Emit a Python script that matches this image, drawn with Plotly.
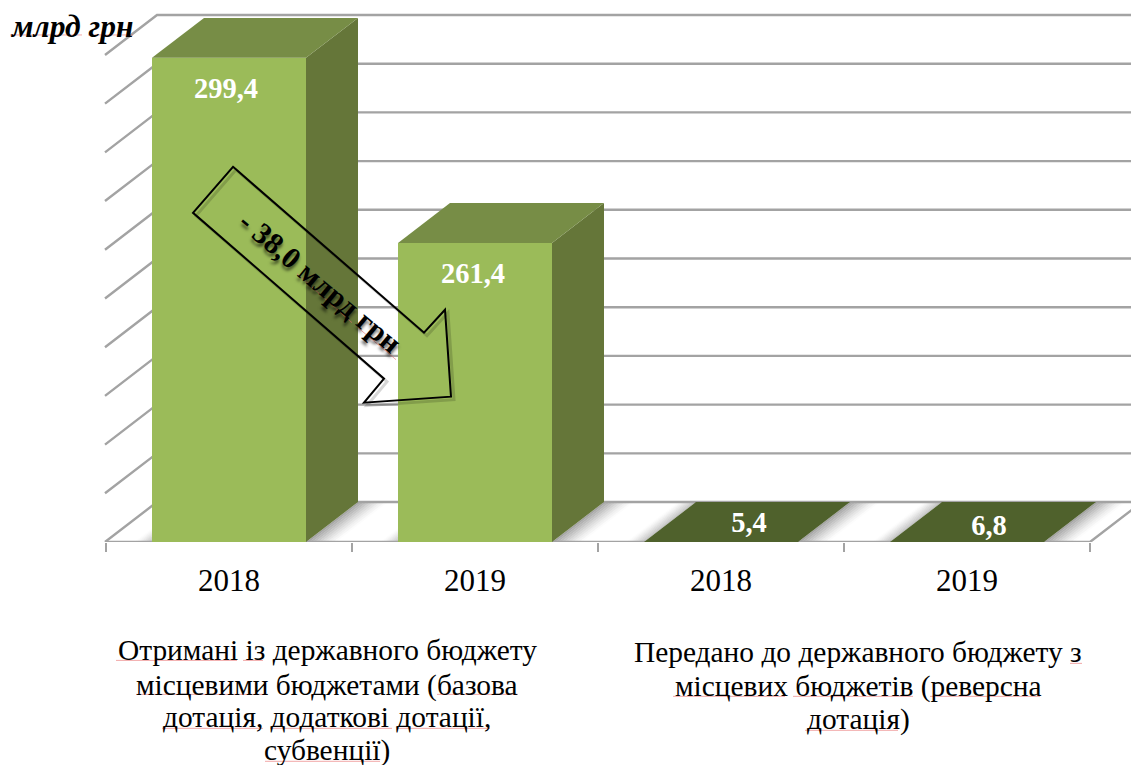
import plotly.graph_objects as go

# ---- data ----
categories = ["2018", "2019", "2018", "2019"]
values = [299.4, 261.4, 5.4, 6.8]
value_labels = ["299,4", "261,4", "5,4", "6,8"]
grid_values = [200, 210, 220, 230, 240, 250, 260, 270, 280, 290, 300]
unit_label = "млрд грн"
change_label = "- 38,0 млрд грн"
caption_received = ["Отримані із державного бюджету", "місцевими бюджетами (базова",
                    "дотація, додаткові дотації,", "субвенції)"]
caption_transferred = ["Передано до державного бюджету з", "місцевих бюджетів (реверсна", "дотація)"]

# ---- scales / geometry ----
W, H = 1131, 765
FLOOR_PX = 542.5          # pixel row of the front axis
PX_PER_X = 246.0
PX_PER_Y = 4.875
X0_PX = 229.0             # pixel column of category 0
AXIS_MIN = 200
BAR_W = 154 / PX_PER_X
DX = 52 / PX_PER_X        # depth of the 3-D box in x units
DY = 40 / PX_PER_Y        # depth of the 3-D box in y units
X_LEFT, X_RIGHT = -0.5 - 1 / PX_PER_X, 3.5
X_MAX = (W - X0_PX) / PX_PER_X
X_MIN = -X0_PX / PX_PER_X
Y_MAX = AXIS_MIN + FLOOR_PX / PX_PER_Y

GREY = "#a3a3a3"
FRONT = ["#9bbb59", "#9bbb59", "#4f612c", "#4f612c"]
SIDE = ["#657639", "#657639", "#4f612c", "#4f612c"]
TOP = ["#778d46", "#778d46", "#4f612c", "#4f612c"]
SERIF = "Liberation Serif"

heights = [max(v, AXIS_MIN) for v in values]
fig = go.Figure()

# floor shadows (blurred, beside each box)
STEPS = 10
for k in range(STEPS):
    frac = k / STEPS
    xs, ys = [], []
    for i in range(4):
        r = i + BAR_W / 2
        a = r + frac * 30 / PX_PER_X
        b = r + (frac + 1 / STEPS) * 30 / PX_PER_X
        xs += [a, a + DX, b + DX, b, a, None]
        ys += [AXIS_MIN, AXIS_MIN + DY, AXIS_MIN + DY, AXIS_MIN, AXIS_MIN, None]
    fig.add_trace(go.Scatter(x=xs, y=ys, mode="lines", line=dict(width=0), fill="toself",
                             fillcolor=f"rgba(110,110,110,{0.62 * (1 - frac) ** 1.4:.3f})",
                             hoverinfo="skip", showlegend=False, zorder=0))
    xs, ys = [], []
    for i in range(4):
        l = i - BAR_W / 2
        a = l - frac * 18 / PX_PER_X
        b = l - (frac + 1 / STEPS) * 18 / PX_PER_X
        xs += [a, a + DX, b + DX, b, a, None]
        ys += [AXIS_MIN, AXIS_MIN + DY, AXIS_MIN + DY, AXIS_MIN, AXIS_MIN, None]
    fig.add_trace(go.Scatter(x=xs, y=ys, mode="lines", line=dict(width=0), fill="toself",
                             fillcolor=f"rgba(110,110,110,{0.42 * (1 - frac) ** 1.4:.3f})",
                             hoverinfo="skip", showlegend=False, zorder=0))

# back wall + side wall grid lines
gx, gy = [], []
for g in grid_values:
    gx += [X_LEFT, X_LEFT + DX, X_MAX + 1, None]
    gy += [g, g + DY, g + DY, None]
fig.add_trace(go.Scatter(x=gx, y=gy, mode="lines", line=dict(color=GREY, width=2.4),
                         hoverinfo="skip", showlegend=False, zorder=1))
# floor edges
fig.add_trace(go.Scatter(x=[X_LEFT, X_RIGHT, X_RIGHT + DX], y=[AXIS_MIN, AXIS_MIN, AXIS_MIN + DY],
                         mode="lines", line=dict(color=GREY, width=2.4),
                         hoverinfo="skip", showlegend=False, zorder=1))

# front faces
fig.add_trace(go.Bar(x=list(range(4)), y=[h - AXIS_MIN for h in heights], base=AXIS_MIN, width=BAR_W,
                     marker=dict(color=FRONT, line=dict(width=0)), hoverinfo="skip",
                     showlegend=False, zorder=2))
# side and top faces
for i, h in enumerate(heights):
    r, l = i + BAR_W / 2, i - BAR_W / 2
    if h > AXIS_MIN:
        fig.add_trace(go.Scatter(x=[r, r + DX, r + DX, r, r], y=[AXIS_MIN, AXIS_MIN + DY, h + DY, h, AXIS_MIN],
                                 mode="lines", line=dict(width=0), fill="toself", fillcolor=SIDE[i],
                                 hoverinfo="skip", showlegend=False, zorder=2))
    fig.add_trace(go.Scatter(x=[l, l + DX, r + DX, r, l], y=[h, h + DY, h + DY, h, h],
                             mode="lines", line=dict(width=0), fill="toself", fillcolor=TOP[i],
                             hoverinfo="skip", showlegend=False, zorder=2))

# value labels
lab_dx = [-3 / PX_PER_X, -2 / PX_PER_X, 2 / PX_PER_X, -4 / PX_PER_X]
lab_dy = [-0.5, -0.6, -0.6, -1.2]
lab_x = [i + (0 if h > AXIS_MIN else DX / 2) + d for (i, h), d in zip(enumerate(heights), lab_dx)]
lab_y = [(h - 6.2 if h > AXIS_MIN else AXIS_MIN + DY / 2) + d for h, d in zip(heights, lab_dy)]
fig.add_trace(go.Scatter(x=lab_x, y=lab_y, mode="text", text=[f"<b>{t}</b>" for t in value_labels],
                         textposition="middle center",
                         textfont=dict(family=SERIF, size=28.5, color="white"),
                         hoverinfo="skip", showlegend=False, zorder=3))


def px(x):
    return x / W


def py(y):
    return (FLOOR_PX - y) / FLOOR_PX


# hollow arrow (pixel outline from the reference call-out)
ARROW = [(233, 167), (424, 333), (445, 310), (451, 397), (364, 403), (384, 379), (193, 213)]

# spell-check underlines of the reference
UNDERLINES = [
    (10, 35, 82, 35), (88, 35, 133, 35), (297, 274, 352, 323), (358, 328, 396, 360),
    (116, 661, 237, 661), (243, 661, 263, 661), (136, 695, 268, 695), (437, 695, 518, 695),
    (162, 729, 263, 729), (270, 729, 392, 729), (397, 729, 490, 729), (265, 762, 380, 762),
    (1070, 664, 1082, 664), (673, 697, 785, 697), (793, 697, 913, 697), (930, 697, 1040, 697),
    (805, 731, 898, 731),
]


def path(pts, dx=0, dy=0):
    return "M " + " L ".join(f"{px(x + dx):.5f} {py(y + dy):.5f}" for x, y in pts) + " Z"


shapes = [
    dict(type="path", path=path(ARROW, 3, 3), xref="paper", yref="paper", layer="above",
         line=dict(color="rgba(0,0,0,0.16)", width=3)),
    dict(type="path", path=path(ARROW), xref="paper", yref="paper", layer="above",
         line=dict(color="black", width=2)),
]
for x0, y0, x1, y1 in UNDERLINES:
    shapes.append(dict(type="line", xref="paper", yref="paper", x0=px(x0), y0=py(y0), x1=px(x1), y1=py(y1),
                       layer="above", line=dict(color="rgba(232,110,110,0.6)", width=1)))

annotations = [
    dict(text=f"<b><i>{unit_label}</i></b>", xref="paper", yref="paper", x=px(71), y=py(27),
         xanchor="center", yanchor="middle", showarrow=False,
         font=dict(family=SERIF, size=31.5, color="black")),
    dict(text=f"<b>{change_label}</b>", xref="paper", yref="paper", x=px(320), y=py(282), textangle=40,
         xanchor="center", yanchor="middle", showarrow=False,
         font=dict(family=SERIF, size=30, color="black", shadow="2px 3px 3px rgba(0,0,0,0.55)")),
]
for line, y in zip(caption_received, [651, 686, 718, 751]):
    annotations.append(dict(text=line, xref="paper", yref="paper", x=px(327), y=py(y), showarrow=False,
                            xanchor="center", yanchor="middle", font=dict(family=SERIF, size=29.4, color="black")))
for line, y in zip(caption_transferred, [653, 687, 720]):
    annotations.append(dict(text=line, xref="paper", yref="paper", x=px(858), y=py(y), showarrow=False,
                            xanchor="center", yanchor="middle", font=dict(family=SERIF, size=29.4, color="black")))

fig.update_layout(
    width=W, height=H, margin=dict(l=0, r=0, t=0, b=H - FLOOR_PX, autoexpand=False),
    paper_bgcolor="white", plot_bgcolor="white", showlegend=False,
    xaxis=dict(range=[X_MIN, X_MAX], tickmode="array", tickvals=list(range(4)), ticktext=categories,
               ticks="outside", ticklen=11, tickcolor="rgba(0,0,0,0)",
               tickfont=dict(family=SERIF, size=31, color="black"),
               showgrid=False, zeroline=False, showline=False,
               minor=dict(tickmode="array", tickvals=[-0.5, 0.5, 1.5, 2.5, 3.5], ticks="outside",
                          ticklen=9, tickcolor=GREY, tickwidth=2, showgrid=False)),
    yaxis=dict(range=[AXIS_MIN, Y_MAX], visible=False, showgrid=False, zeroline=False),
    shapes=shapes, annotations=annotations,
)

fig.write_html("out.html", config=dict(displayModeBar=False, staticPlot=True),
               post_script="document.body.style.margin='0';document.body.style.overflow='hidden';")
